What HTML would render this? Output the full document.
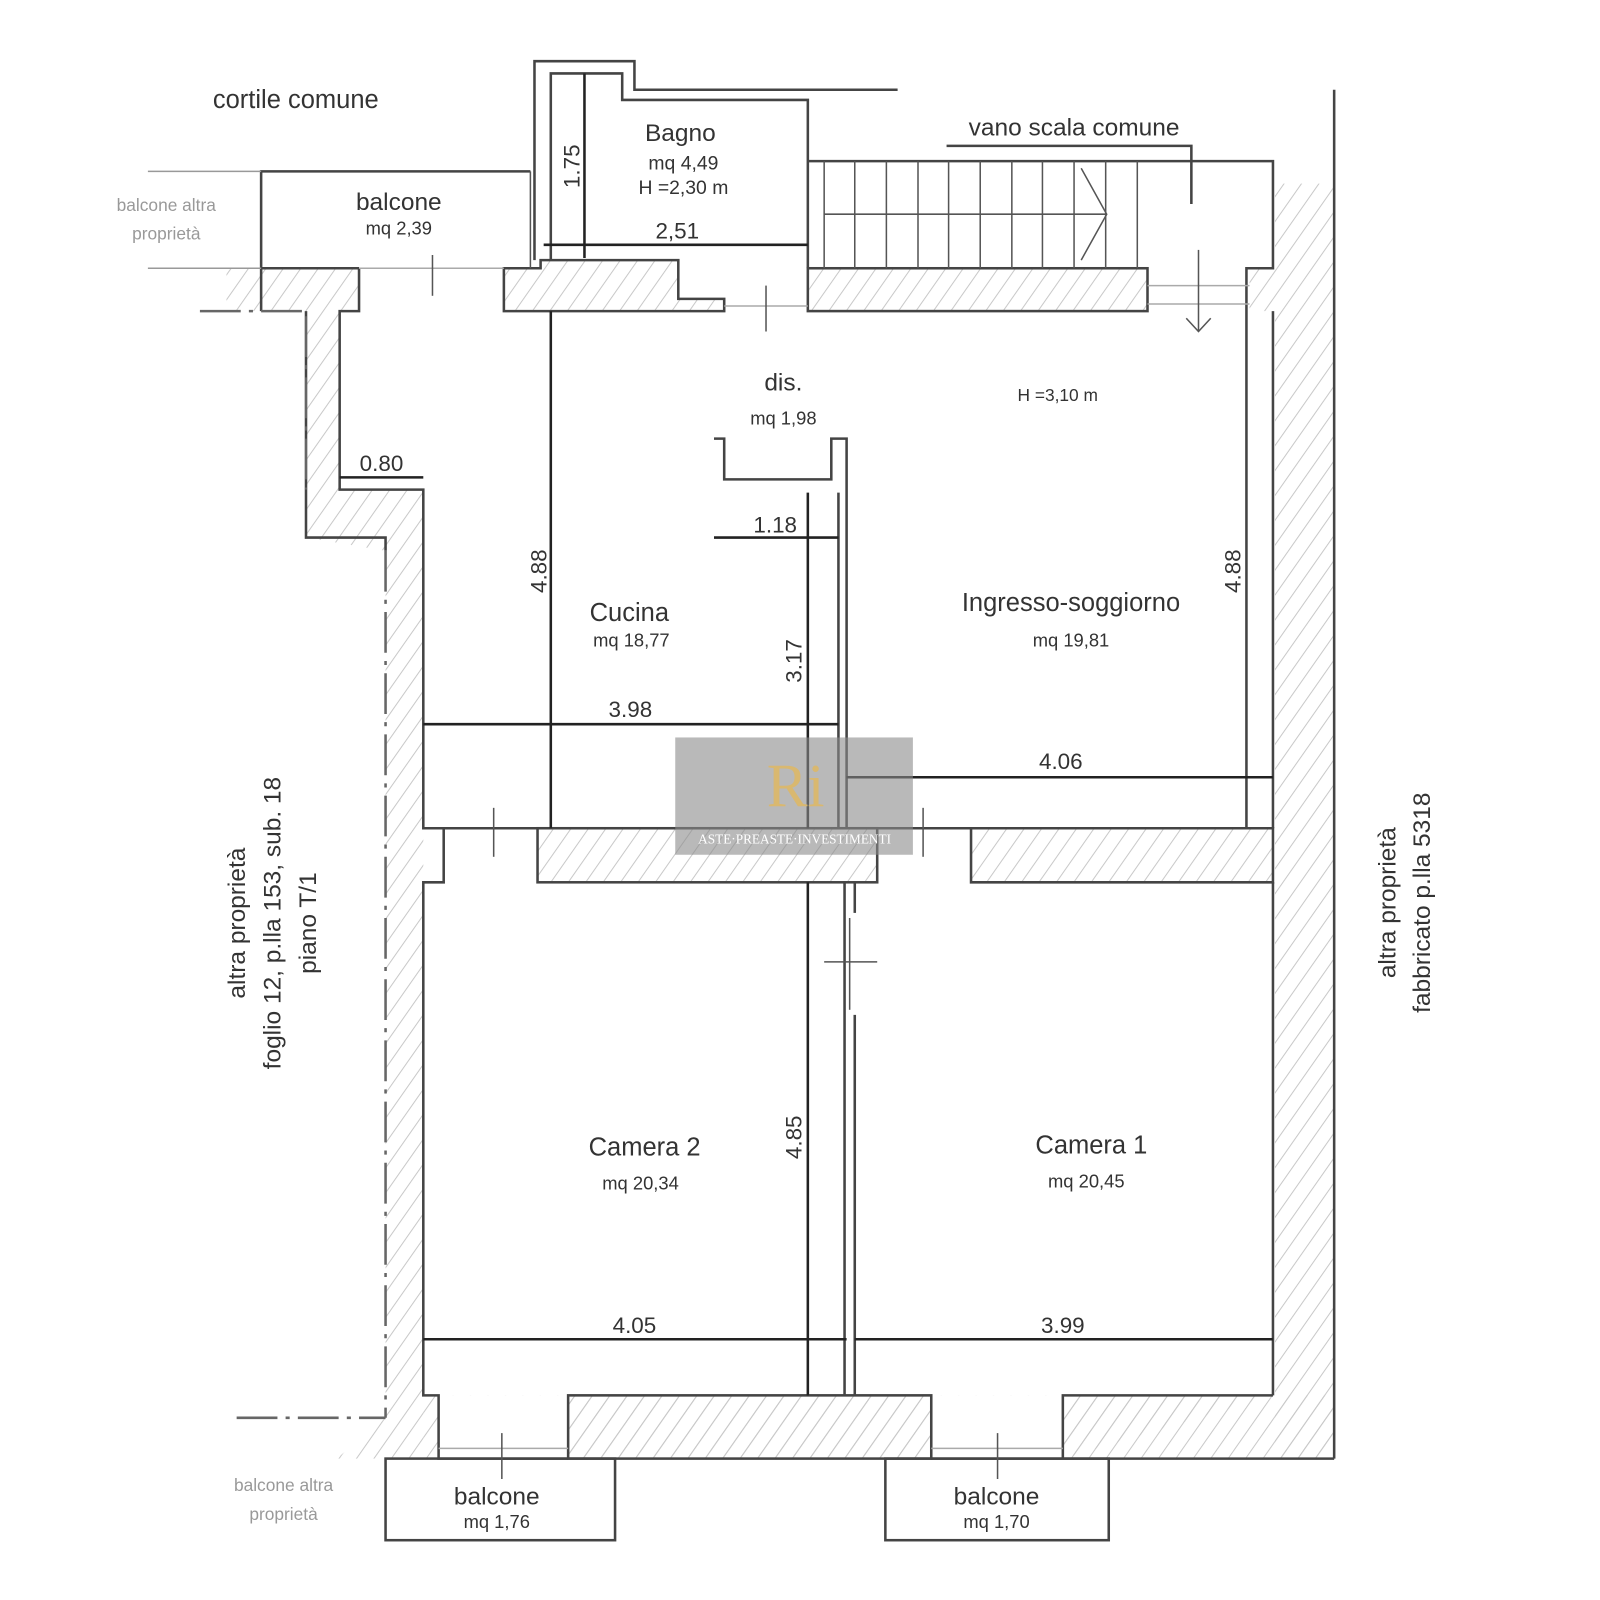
<!DOCTYPE html>
<html><head><meta charset="utf-8"><style>
html,body{margin:0;padding:0;background:#fff;width:1600px;height:1600px;overflow:hidden}
svg text{font-family:"Liberation Sans","DejaVu Sans",sans-serif;fill:#333}
</style></head><body>
<svg width="1600" height="1600" viewBox="0 0 1600 1600" xmlns="http://www.w3.org/2000/svg">
<defs>
<pattern id="h" patternUnits="userSpaceOnUse" width="14" height="14" patternTransform="rotate(35)">
<line x1="0" y1="0" x2="0" y2="14" stroke="#c8c8c8" stroke-width="2"/>
</pattern>
</defs>
<g transform="scale(1.02)">
<g fill="url(#h)" stroke="none">
<polygon points="222,263 352,263 352,305 333,305 333,480 415,480 415,1430 330,1430 378,1390 378,540 300,527 300,305 222,305"/>
<rect x="1250" y="180" width="58" height="1250"/>
<rect x="415" y="1368" width="893" height="62"/>
<rect x="1225" y="263" width="25" height="42"/>
</g>
<g fill="#fff" stroke="none">
<rect x="430" y="1368" width="127" height="62"/><rect x="913" y="1368" width="129" height="62"/>
</g>
<g stroke="#444" stroke-width="2.5" fill="none">
<polygon points="494,263 530,263 530,255 665,255 665,293 710,293 710,305 494,305" fill="url(#h)"/>
<rect x="792" y="263" width="333" height="42" fill="url(#h)"/>
<rect x="527" y="812" width="333" height="53" fill="url(#h)"/>
<polyline points="952,812 1248,812 1248,865 952,865 952,812" fill="url(#h)"/>
<rect x="557" y="1368" width="356" height="62" fill="url(#h)"/>
<polyline points="1248,1368 1042,1368 1042,1430" fill="url(#h)"/>
<polyline points="256,305 256,168 520,168"/>
<line x1="256" y1="263" x2="352" y2="263"/>
<polyline points="352,263 352,305 333,305 333,480 415,480 415,812 435,812 435,865 415,865 415,1368 430,1368 430,1430 557,1430"/>
<polyline points="300,305 300,527 378,527 378,540"/>
<polyline points="524,255 524,60 622,60 622,88 880,88"/>
<polyline points="540,255 540,72 610,72 610,98 792,98 792,263"/>
<polyline points="792,158 1248,158 1248,263 1222,263 1222,812"/>
<line x1="1308" y1="88" x2="1308" y2="1430"/>
<line x1="1248" y1="305" x2="1248" y2="812"/>
<line x1="1248" y1="865" x2="1248" y2="1368"/>
<line x1="913" y1="1430" x2="1308" y2="1430"/>
<line x1="415" y1="812" x2="1248" y2="812"/>
<polyline points="700,430 710,430 710,470 815,470 815,430 830,430 830,812"/>
<line x1="822" y1="483" x2="822" y2="812"/>
<line x1="828" y1="865" x2="828" y2="1368"/><line x1="838" y1="865" x2="838" y2="895"/>
<line x1="838" y1="995" x2="838" y2="1368"/>
<rect x="378" y="1430" width="225" height="80"/>
<rect x="868" y="1430" width="219" height="80"/>
<polyline points="928,143 1168,143 1168,200"/>
</g>
<g stroke="#555" stroke-width="1.5">
<line x1="145" y1="168" x2="256" y2="168" stroke="#999"/>
<line x1="145" y1="263" x2="256" y2="263" stroke="#999"/>
<line x1="520" y1="263" x2="520" y2="168"/>
<line x1="352" y1="263" x2="494" y2="263" stroke="#aaa"/>
<line x1="1125" y1="280" x2="1225" y2="280" stroke="#aaa"/><line x1="1125" y1="298" x2="1225" y2="298" stroke="#aaa"/>
<line x1="710" y1="300" x2="792" y2="300" stroke="#aaa"/>
<line x1="430" y1="1420" x2="557" y2="1420" stroke="#aaa"/><line x1="913" y1="1420" x2="1042" y2="1420" stroke="#aaa"/>
<line x1="808" y1="943" x2="860" y2="943"/><line x1="833" y1="900" x2="833" y2="990"/>
<line x1="424" y1="250" x2="424" y2="290"/><line x1="751" y1="280" x2="751" y2="325"/>
<line x1="484" y1="792" x2="484" y2="840"/><line x1="905" y1="792" x2="905" y2="840"/>
<line x1="492" y1="1405" x2="492" y2="1450"/><line x1="978" y1="1405" x2="978" y2="1450"/>
<line x1="1175" y1="245" x2="1175" y2="325"/><polyline points="1163,312 1175,325 1187,312" fill="none"/>
<polyline points="1060,165 1085,210 1060,255" fill="none"/>
<line x1="808" y1="210" x2="1085" y2="210"/>
<line x1="808" y1="158" x2="808" y2="263"/><line x1="838" y1="158" x2="838" y2="263"/><line x1="869" y1="158" x2="869" y2="263"/>
<line x1="900" y1="158" x2="900" y2="263"/><line x1="930" y1="158" x2="930" y2="263"/><line x1="961" y1="158" x2="961" y2="263"/>
<line x1="992" y1="158" x2="992" y2="263"/><line x1="1022" y1="158" x2="1022" y2="263"/><line x1="1053" y1="158" x2="1053" y2="263"/>
<line x1="1084" y1="158" x2="1084" y2="263"/><line x1="1115" y1="158" x2="1115" y2="263"/>
<line x1="378" y1="540" x2="378" y2="1390" stroke-dasharray="40,8,4,8" stroke-width="2.5" stroke="#666"/>
<line x1="300" y1="310" x2="300" y2="480" stroke-dasharray="40,8,4,8" stroke-width="2" stroke="#666"/>
<line x1="196" y1="305" x2="300" y2="305" stroke-dasharray="40,8,4,8" stroke-width="2.5" stroke="#666"/>
<line x1="232" y1="1390" x2="378" y2="1390" stroke-dasharray="40,8,4,8" stroke-width="2.5" stroke="#666"/>
</g>
<g stroke="#222" stroke-width="2.5">
<line x1="533" y1="240" x2="792" y2="240"/><line x1="573" y1="72" x2="573" y2="253"/>
<line x1="333" y1="468" x2="415" y2="468"/><line x1="540" y1="305" x2="540" y2="812"/>
<line x1="700" y1="527" x2="822" y2="527"/><line x1="792" y1="483" x2="792" y2="812"/>
<line x1="415" y1="710" x2="822" y2="710"/><line x1="830" y1="762" x2="1248" y2="762"/>
<line x1="792" y1="865" x2="792" y2="1368"/>
<line x1="415" y1="1313" x2="830" y2="1313"/><line x1="838" y1="1313" x2="1248" y2="1313"/>
</g>
<g font-size="24" text-anchor="middle">
<text x="290" y="106" font-size="25">cortile comune</text>
<text x="667" y="138">Bagno</text>
<text x="670" y="166" font-size="19">mq 4,49</text>
<text x="670" y="190" font-size="19">H =2,30 m</text>
<text x="664" y="234" font-size="22">2,51</text>
<text x="1053" y="133">vano scala comune</text>
<text x="391" y="206">balcone</text>
<text x="391" y="230" font-size="18">mq 2,39</text>
<text x="163" y="207" font-size="17" style="fill:#999">balcone altra</text>
<text x="163" y="235" font-size="17" style="fill:#999">proprietà</text>
<text x="768" y="383">dis.</text>
<text x="768" y="416" font-size="18">mq 1,98</text>
<text x="1037" y="393" font-size="17">H =3,10 m</text>
<text x="374" y="462" font-size="22">0.80</text>
<text x="760" y="522" font-size="22">1.18</text>
<text x="617" y="609" font-size="25">Cucina</text>
<text x="619" y="634" font-size="18">mq 18,77</text>
<text x="1050" y="599" font-size="25">Ingresso-soggiorno</text>
<text x="1050" y="634" font-size="18">mq 19,81</text>
<text x="618" y="703" font-size="22">3.98</text>
<text x="1040" y="754" font-size="22">4.06</text>
<text x="632" y="1133" font-size="25">Camera 2</text>
<text x="628" y="1166" font-size="18">mq 20,34</text>
<text x="1070" y="1131" font-size="25">Camera 1</text>
<text x="1065" y="1164" font-size="18">mq 20,45</text>
<text x="622" y="1307" font-size="22">4.05</text>
<text x="1042" y="1307" font-size="22">3.99</text>
<text x="487" y="1475">balcone</text>
<text x="487" y="1498" font-size="18">mq 1,76</text>
<text x="977" y="1475">balcone</text>
<text x="977" y="1498" font-size="18">mq 1,70</text>
<text x="278" y="1462" font-size="17" style="fill:#999">balcone altra</text>
<text x="278" y="1490" font-size="17" style="fill:#999">proprietà</text>
<text font-size="22" transform="translate(568,163) rotate(-90)">1.75</text>
<text font-size="22" transform="translate(536,560) rotate(-90)">4.88</text>
<text font-size="22" transform="translate(786,648) rotate(-90)">3.17</text>
<text font-size="22" transform="translate(1216,560) rotate(-90)">4.88</text>
<text font-size="22" transform="translate(786,1115) rotate(-90)">4.85</text>
<text font-size="24" transform="translate(240,905) rotate(-90)">altra proprietà</text>
<text font-size="24" transform="translate(275,905) rotate(-90)">foglio 12, p.lla 153, sub. 18</text>
<text font-size="24" transform="translate(310,905) rotate(-90)">piano T/1</text>
<text font-size="24" transform="translate(1368,885) rotate(-90)">altra proprietà</text>
<text font-size="24" transform="translate(1402,885) rotate(-90)">fabbricato p.lla 5318</text>
</g>
<rect x="662" y="723" width="233" height="115" fill="#8a8a8a" fill-opacity="0.6"/>
<text x="780" y="790" font-size="60" text-anchor="middle" style="fill:#d9b870;font-family:'Liberation Serif',serif">Ri</text>
<text x="779" y="827" font-size="13" text-anchor="middle" style="fill:#fff;font-family:'Liberation Serif',serif">ASTE·PREASTE·INVESTIMENTI</text>
</g>
</svg>
</body></html>
